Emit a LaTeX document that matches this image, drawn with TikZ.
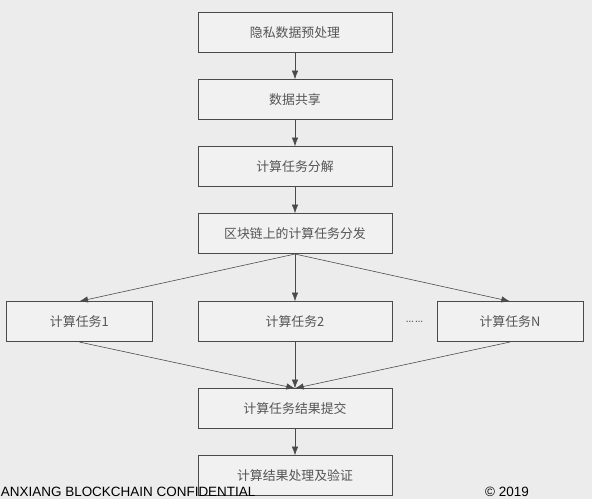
\documentclass[tikz,border=0pt]{standalone}
\usepackage{fontspec}
\usepackage{xcolor}
\usepackage{tikz}
\usetikzlibrary{shapes.geometric, arrows.meta, positioning, calc}
\newfontfamily\cjk{Noto Sans CJK SC}
\setsansfont{Liberation Sans}
\definecolor{bggray}{HTML}{ECECEC}
\definecolor{boxgray}{HTML}{F1F1F1}
\definecolor{linegray}{HTML}{4A4A4A}
\definecolor{textgray}{HTML}{555555}
\tikzstyle{process} = [rectangle, minimum width=5.82cm, minimum height=1.2cm, text centered, draw=linegray, fill=boxgray, line width=0.6pt, text=textgray, font=\cjk\fontsize{11pt}{13pt}\selectfont]
\tikzstyle{task} = [process, minimum width=4.38cm]
\tikzstyle{arrow} = [line width=0.5pt, draw=linegray, ->, >={Latex[length=2.6mm,width=1.9mm]}]

\begin{document}
\begin{tikzpicture}[node distance=2.01cm]
    % background and page size
    \fill[bggray] (0,0) rectangle (17.76,-14.97);
    \useasboundingbox (0,0) rectangle (17.76,-14.97);

    \node (prep) [process] at (8.85,-0.98) {隐私数据预处理};
    \node (share) [process, below of=prep] {数据共享};
    \node (split) [process, below of=share] {计算任务分解};
    \node (dist) [process, below of=split] {区块链上的计算任务分发};

    \node (task2) [process, below of=dist, yshift=-0.63cm] {计算任务2};
    \node (task1) [task, left of=task2, xshift=-4.46cm] {计算任务1};
    \node (taskN) [task, right of=task2, xshift=4.44cm] {计算任务N};
    \node (dots) [text=textgray, font=\fontsize{12pt}{13pt}\selectfont] at ($(task2.east)!0.5!(taskN.west)$) {……};

    \node (submit) [process, below of=task2, yshift=-0.6cm] {计算任务结果提交};
    \node (verify) [process, below of=submit] {计算结果处理及验证};

    \draw [arrow] (prep) -- (share);
    \draw [arrow] (share) -- (split);
    \draw [arrow] (split) -- (dist);
    \draw [arrow] (dist.south) -- (task1.north);
    \draw [arrow] (dist.south) -- (task2.north);
    \draw [arrow] (dist.south) -- (taskN.north);
    \draw [arrow] (task1.south) -- (submit.north);
    \draw [arrow] (task2.south) -- (submit.north);
    \draw [arrow] (taskN.south) -- (submit.north);
    \draw [arrow] (submit) -- (verify);

    % footer text along the bottom edge
    \node (conf) [anchor=base west, inner sep=0pt, font=\sffamily\fontsize{11.5pt}{13pt}\selectfont] at (0.02,-14.9) {ANXIANG BLOCKCHAIN CONFIDENTIAL};
    \node (year) [anchor=base west, inner sep=0pt, font=\sffamily\fontsize{11.5pt}{13pt}\selectfont] at (14.55,-14.9) {© 2019};
\end{tikzpicture}
\end{document}
